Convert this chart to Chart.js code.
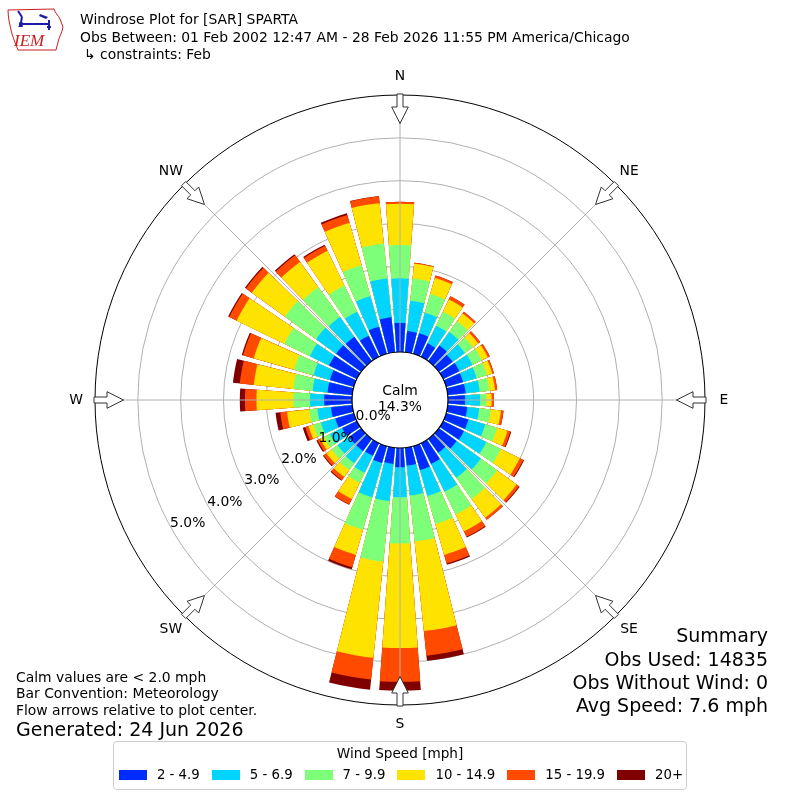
<!DOCTYPE html>
<html>
<head>
<meta charset="utf-8">
<title>Windrose Plot for [SAR] SPARTA</title>
<script src="https://cdn.jsdelivr.net/npm/chart.js@4.4.1/dist/chart.umd.min.js"></script>
<style>
  html, body { margin: 0; padding: 0; background: #ffffff; }
  #wrap { position: relative; width: 800px; height: 800px; overflow: hidden;
          font-family: "DejaVu Sans", sans-serif; color: #000; }
  #c { position: absolute; left: 0; top: 0; }
  .t { position: absolute; white-space: nowrap; font-size: 13.9px; line-height: 16.7px; }
  .big { font-size: 19px; line-height: 22.8px; }
  .r { text-align: right; }
  #legend { position: absolute; left: 113px; top: 741px; width: 574px; height: 49px;
            border: 1px solid #cccccc; border-radius: 4px; box-sizing: border-box; background: #fff; }
  #legend .ttl { position: absolute; left: 0; width: 100%; top: 3px; text-align: center;
                 font-size: 13.6px; line-height: 16px; white-space: nowrap; }
  #legend .row { position: absolute; left: -20px; width: 614px; top: 24px; height: 18px;
                 display: flex; flex-wrap: nowrap; justify-content: center; align-items: center;
                 font-size: 13.3px; white-space: nowrap; }
  #legend .sw { flex: 0 0 28px; width: 28px; height: 10px; margin-right: 10px; }
  #legend .lb { flex: 0 0 auto; margin-right: 12px; line-height: 18px; white-space: nowrap; }
  #legend .lb:last-child { margin-right: 0; }
</style>
</head>
<body>
<div id="wrap">
  <canvas id="c" width="800" height="800"></canvas>

  <svg style="position:absolute;left:0;top:0" width="70" height="56" viewBox="0 0 70 56">
    <path d="M8,10 L54,9 C55,13 58,15 60,19 L63,27 C62,33 59,37 58,42 L56,50 L18,50 C16,45 14,40 12,34 C10,26 8,18 8,10 Z"
          fill="none" stroke="#c81e1e" stroke-width="1"/>
    <g stroke="#1c1ca8" stroke-width="2" fill="none">
      <line x1="21" y1="24" x2="49" y2="24"/>
      <line x1="18" y1="11" x2="22" y2="17"/>
      <line x1="22" y1="17" x2="21" y2="22"/>
      <line x1="49" y1="20" x2="49" y2="30"/>
      <line x1="47" y1="27" x2="51" y2="27"/>
    </g>
    <circle cx="21" cy="24" r="2.2" fill="#1c1ca8"/>
    <polygon points="40,14 48,17 46,19 39,16" fill="#1c1ca8"/>
    <polygon points="18,27 21,23 23,27" fill="#1c1ca8"/>
    <text x="14" y="46" font-family="Liberation Serif, serif" font-style="italic" font-size="17" fill="#c81e1e">IEM</text>
  </svg>

  <div class="t" style="left:80px;top:10.6px">Windrose Plot for [SAR] SPARTA</div>
  <div class="t" style="left:80px;top:28.6px">Obs Between: 01 Feb 2002 12:47 AM - 28 Feb 2026 11:55 PM America/Chicago</div>
  <div class="t" style="left:84px;top:45.6px">↳ constraints: Feb</div>

  <div class="t" style="left:16px;top:668.6px">Calm values are &lt; 2.0 mph</div>
  <div class="t" style="left:16px;top:685.3px">Bar Convention: Meteorology</div>
  <div class="t" style="left:16px;top:702.3px">Flow arrows relative to plot center.</div>
  <div class="t big" style="left:16px;top:717.6px">Generated: 24 Jun 2026</div>

  <div class="t big r" style="right:32px;top:623.6px">Summary</div>
  <div class="t big r" style="right:32px;top:647.6px">Obs Used: 14835</div>
  <div class="t big r" style="right:32px;top:670.6px">Obs Without Wind: 0</div>
  <div class="t big r" style="right:32px;top:693.6px">Avg Speed: 7.6 mph</div>

  <div id="legend">
    <div class="ttl">Wind Speed [mph]</div>
    <div class="row" id="legrow"></div>
  </div>
</div>

<script>
// ---------------- data (percent of observations) ----------------
const DIRECTIONS = [0, 10, 20, 30, 40, 50, 60, 70, 80, 90, 100, 110, 120, 130, 140, 150, 160, 170,
                    180, 190, 200, 210, 220, 230, 240, 250, 260, 270, 280, 290, 300, 310, 320, 330, 340, 350];
const SPEED_BINS = ['2 - 4.9', '5 - 6.9', '7 - 9.9', '10 - 14.9', '15 - 19.9', '20+'];
const BIN_COLORS = ['#002bff', '#00d4ff', '#7dff7a', '#ffe300', '#ff4a00', '#800000'];

const pct_2_5   = [0.68, 0.50, 0.50, 0.35, 0.45, 0.40, 0.42, 0.41, 0.42, 0.40, 0.46, 0.54, 0.54, 0.51, 0.40, 0.54, 0.58, 0.42,
                   0.45, 0.38, 0.41, 0.33, 0.35, 0.35, 0.38, 0.45, 0.50, 0.65, 0.58, 0.58, 0.72, 0.72, 0.70, 0.55, 0.66, 0.82];
const pct_5_7   = [1.04, 0.71, 0.50, 0.46, 0.39, 0.35, 0.34, 0.33, 0.33, 0.35, 0.28, 0.41, 0.58, 0.70, 0.72, 0.72, 0.63, 0.70,
                   0.70, 0.87, 0.83, 0.44, 0.35, 0.33, 0.32, 0.35, 0.32, 0.33, 0.35, 0.40, 0.50, 0.58, 0.57, 0.62, 0.74, 0.91];
const pct_7_10  = [0.78, 0.52, 0.45, 0.36, 0.31, 0.23, 0.24, 0.25, 0.23, 0.15, 0.27, 0.29, 0.38, 0.47, 0.61, 0.59, 0.68, 1.08,
                   1.08, 1.42, 0.79, 0.26, 0.20, 0.17, 0.15, 0.18, 0.19, 0.39, 0.45, 0.47, 0.66, 0.90, 0.86, 0.68, 0.75, 0.82];
const pct_10_15 = [0.96, 0.35, 0.39, 0.32, 0.22, 0.15, 0.16, 0.13, 0.13, 0.12, 0.24, 0.25, 0.49, 0.56, 0.54, 0.44, 0.75, 2.10,
                   2.44, 2.26, 0.61, 0.42, 0.20, 0.15, 0.10, 0.12, 0.52, 0.86, 0.93, 0.98, 1.24, 0.95, 0.73, 0.90, 1.03, 0.95];
const pct_15_20 = [0.05, 0.02, 0.06, 0.08, 0.05, 0.06, 0.05, 0.04, 0.05, 0.05, 0.06, 0.07, 0.09, 0.07, 0.06, 0.14, 0.21, 0.58,
                   0.79, 0.51, 0.30, 0.14, 0.09, 0.08, 0.07, 0.08, 0.16, 0.27, 0.33, 0.26, 0.19, 0.17, 0.19, 0.13, 0.19, 0.16];
const pct_20p   = [0.00, 0.00, 0.00, 0.00, 0.00, 0.00, 0.00, 0.00, 0.00, 0.00, 0.00, 0.02, 0.02, 0.02, 0.00, 0.02, 0.03, 0.12,
                   0.21, 0.24, 0.05, 0.01, 0.02, 0.02, 0.03, 0.06, 0.11, 0.12, 0.16, 0.03, 0.03, 0.03, 0.03, 0.03, 0.04, 0.01];

const CALM_PCT = 14.3;
const RING_VALUES = [1, 2, 3, 4, 5, 6];
const TICK_LABEL_VALUES = [0, 1, 2, 3, 4, 5];
const COMPASS = ['N', 'NE', 'E', 'SE', 'S', 'SW', 'W', 'NW'];

// ---------------- chart geometry options ----------------
const R_MIN = -1.12;   // radial offset that leaves room for the calm circle
const R_MAX = 6.0;
const BAR_DEG = 8.2;
const GAP_DEG = 10 - BAR_DEG;
const FONT = '13.9px "DejaVu Sans", sans-serif';

// ---------------- build stacked (cumulative) datasets ----------------
const BINS = [pct_2_5, pct_5_7, pct_7_10, pct_10_15, pct_15_20, pct_20p];
const labels = [];
DIRECTIONS.forEach(d => { labels.push(d + '°'); labels.push(''); });

const datasets = BINS.map((_, b) => {
  const data = [];
  DIRECTIONS.forEach((d, i) => {
    let sum = 0;
    for (let k = 0; k <= b; k++) sum += BINS[k][i];
    data.push(+sum.toFixed(3));
    data.push(R_MIN);            // spacer slot between bars
  });
  const color = BIN_COLORS[b];
  return {
    label: SPEED_BINS[b],
    data,
    backgroundColor: c => (c.dataIndex % 2 === 0 ? color : 'rgba(0,0,0,0)'),
    borderWidth: 0,
    angle: c => (c.dataIndex % 2 === 0 ? BAR_DEG : GAP_DEG)
  };
});

// ---------------- decorations plugin ----------------
const roseDecor = {
  id: 'roseDecor',
  afterDatasetsDraw(chart) {
    const s = chart.scales.r, ctx = chart.ctx;
    const cx = s.xCenter, cy = s.yCenter;
    const r0 = s.getDistanceFromCenterForValue(0);
    const rM = s.getDistanceFromCenterForValue(R_MAX);
    ctx.save();
    ctx.strokeStyle = '#b0b0b0';
    ctx.lineWidth = 1;
    for (let k = 0; k < 8; k++) {
      const a = k * 45 * Math.PI / 180;
      const ux = Math.sin(a), uy = -Math.cos(a);
      ctx.beginPath();
      ctx.moveTo(cx + ux * r0, cy + uy * r0);
      ctx.lineTo(cx + ux * rM, cy + uy * rM);
      ctx.stroke();
    }
    ctx.restore();
  },
  afterDraw(chart) {
    const s = chart.scales.r, ctx = chart.ctx;
    const cx = s.xCenter, cy = s.yCenter;
    const rv = v => s.getDistanceFromCenterForValue(v);
    const r0 = rv(0), rM = rv(R_MAX);
    ctx.save();
    // calm circle
    ctx.beginPath();
    ctx.arc(cx, cy, r0, 0, Math.PI * 2);
    ctx.fillStyle = '#ffffff';
    ctx.fill();
    ctx.lineWidth = 1.2;
    ctx.strokeStyle = '#000000';
    ctx.stroke();
    ctx.fillStyle = '#000000';
    ctx.font = FONT;
    ctx.textAlign = 'center';
    ctx.textBaseline = 'middle';
    ctx.fillText('Calm', cx, cy - 9);
    ctx.fillText(CALM_PCT.toFixed(1) + '%', cx, cy + 7);
    // radial tick labels along bearing 240
    const la = 240 * Math.PI / 180;
    const lx = Math.sin(la), ly = -Math.cos(la);
    TICK_LABEL_VALUES.forEach(v => {
      const d = rv(v) - 17;
      ctx.fillText(v.toFixed(1) + '%', cx + lx * d, cy + ly * d + 1);
    });
    // flow arrows and compass labels
    COMPASS.forEach((name, k) => {
      const a = k * 45 * Math.PI / 180;
      const ux = Math.sin(a), uy = -Math.cos(a);
      const px = -uy, py = ux;
      const pts = [[rM + 1, -3], [rM - 12, -3], [rM - 12, -8.3], [rM - 28.5, 0],
                   [rM - 12, 8.3], [rM - 12, 3], [rM + 1, 3]];
      ctx.beginPath();
      pts.forEach(([d, w], i) => {
        const x = cx + ux * d + px * w, y = cy + uy * d + py * w;
        if (i) ctx.lineTo(x, y); else ctx.moveTo(x, y);
      });
      ctx.closePath();
      ctx.fillStyle = '#ffffff';
      ctx.fill();
      ctx.strokeStyle = '#333333';
      ctx.lineWidth = 1;
      ctx.stroke();
      ctx.fillStyle = '#000000';
      ctx.fillText(name, cx + ux * (rM + 19), cy + uy * (rM + 19));
    });
    ctx.restore();
  }
};

new Chart(document.getElementById('c'), {
  type: 'polarArea',
  data: { labels, datasets },
  options: {
    responsive: false,
    animation: false,
    devicePixelRatio: 1,
    events: [],
    layout: { padding: 95 },
    plugins: { legend: { display: false }, tooltip: { enabled: false }, title: { display: false } },
    scales: {
      r: {
        min: R_MIN,
        max: R_MAX,
        startAngle: -BAR_DEG / 2,
        z: 1,
        ticks: { display: false },
        grid: {
          circular: true,
          lineWidth: 1,
          color: c => (c.tick && c.tick.value === R_MAX ? '#000000' : '#b0b0b0')
        },
        angleLines: { display: false },
        pointLabels: { display: false },
        afterBuildTicks: sc => { sc.ticks = RING_VALUES.map(v => ({ value: v })); }
      }
    }
  },
  plugins: [roseDecor]
});

// ---------------- legend (HTML) ----------------
const row = document.getElementById('legrow');
SPEED_BINS.forEach((lab, i) => {
  const sw = document.createElement('span');
  sw.className = 'sw';
  sw.style.background = BIN_COLORS[i];
  const tx = document.createElement('span');
  tx.className = 'lb';
  tx.textContent = lab;
  row.appendChild(sw);
  row.appendChild(tx);
});
</script>
</body>
</html>
